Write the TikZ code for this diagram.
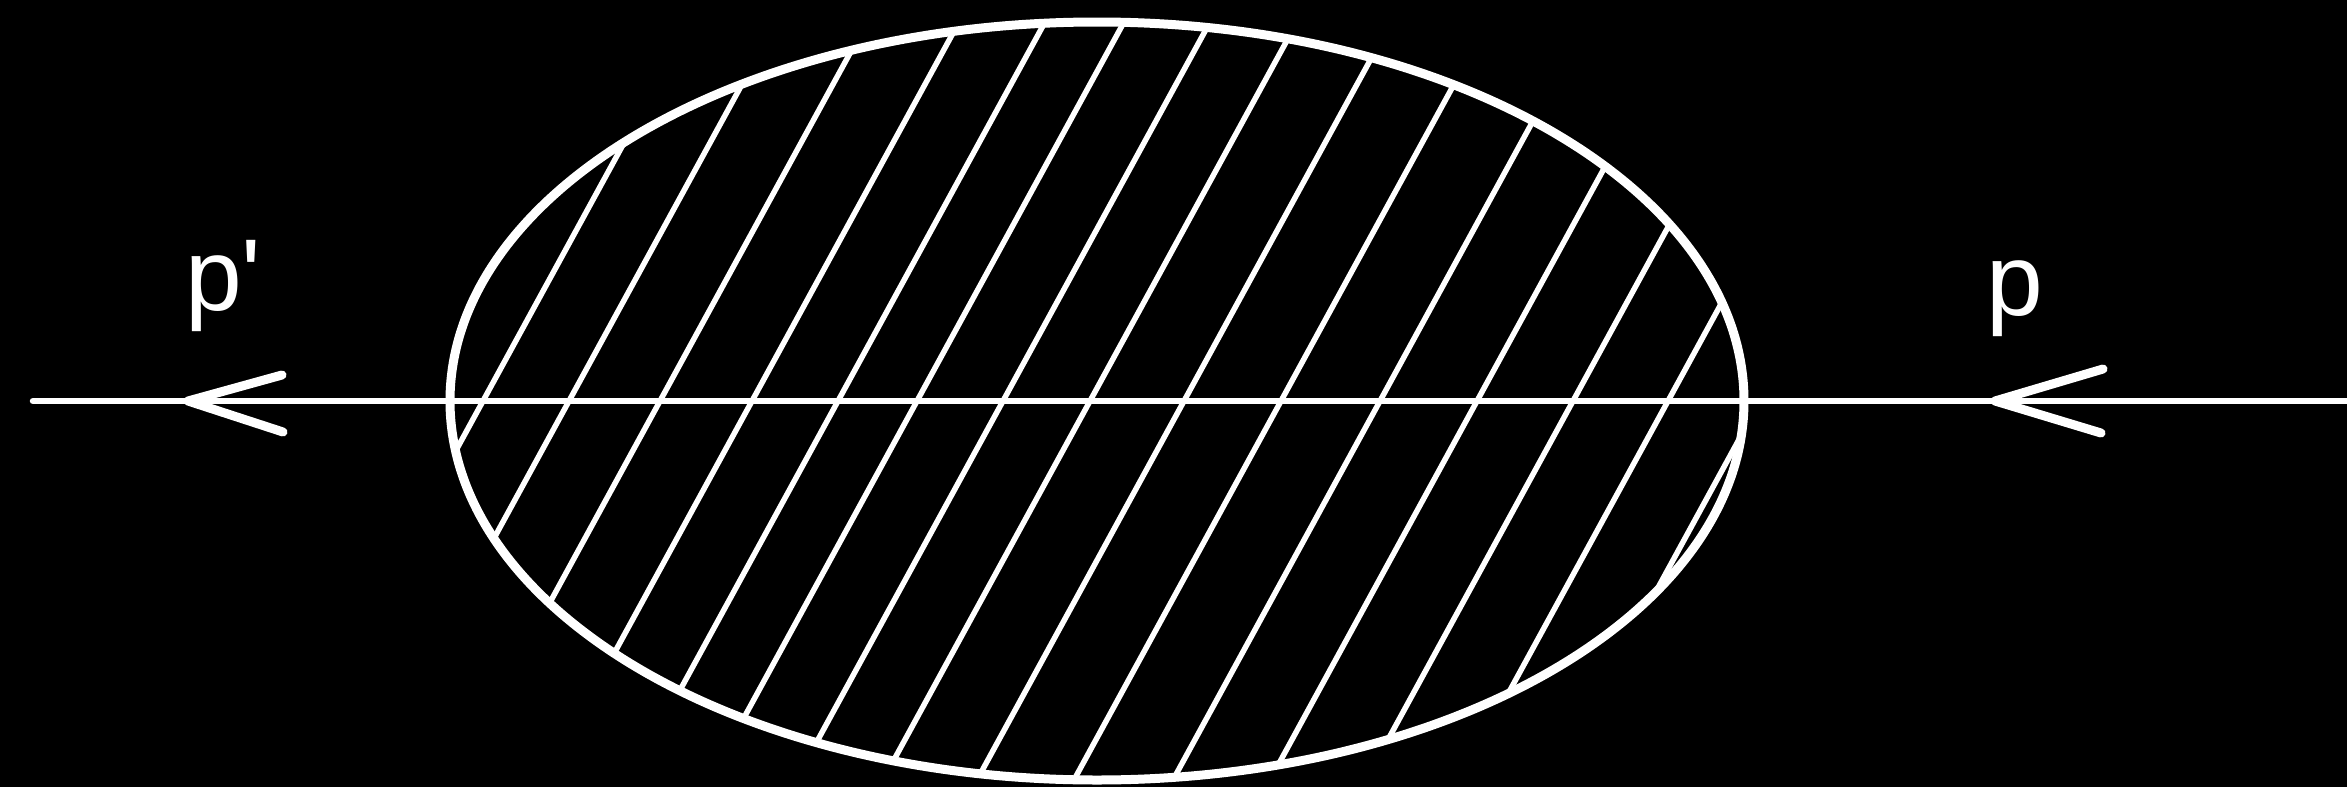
\documentclass[tikz,border=0pt]{standalone}
\usepackage{fontspec}
\newfontfamily\lab{Liberation Sans}
\begin{document}
\begin{tikzpicture}[x=1pt,y=-1pt,
  ink/.style={draw=white,line cap=round,line join=round},
  rim/.style={ink,line width=9pt},
  hatchline/.style={ink,line width=5.5pt},
  axisline/.style={ink,line width=6.5pt},
  arrowhead/.style={ink,line width=9pt},
  lbl/.style={text=white,inner sep=0pt,font=\lab\fontsize{102}{110}\selectfont}]
\fill[black] (0,0) rectangle (2347,787);
\useasboundingbox (0,0) rectangle (2347,787);
\coordinate (c) at (1097,401);
% hatching clipped to the ellipse
\begin{scope}
  \clip (c) ellipse [x radius=647pt, y radius=379pt];
  \foreach \x in {483,569,660,752,838,917,1003,1090,1184,1281,1380,1477,1573,1668,1760}{
    \draw[hatchline] (\x-230,822) -- (\x+230,-20);
  }
\end{scope}
\draw[rim] (c) ellipse [x radius=647pt, y radius=379pt];
% axis line
\coordinate (L) at (33,401);
\coordinate (R) at (2347,401);
\draw[axisline] (L) -- (R);
% arrowheads
\coordinate (tl) at (188,401);
\coordinate (tla) at (282,375);
\coordinate (tlb) at (283,432);
\draw[arrowhead] (tla) -- (tl) -- (tlb);
\coordinate (tr) at (1995,401);
\coordinate (tra) at (2103,369);
\coordinate (trb) at (2101,433);
\draw[arrowhead] (tra) -- (tr) -- (trb);
% labels
\node[lbl,anchor=base west] (pprime) at (185,310) {p'};
\node[lbl,anchor=base west] (p) at (1986,315) {p};
\end{tikzpicture}
\end{document}
